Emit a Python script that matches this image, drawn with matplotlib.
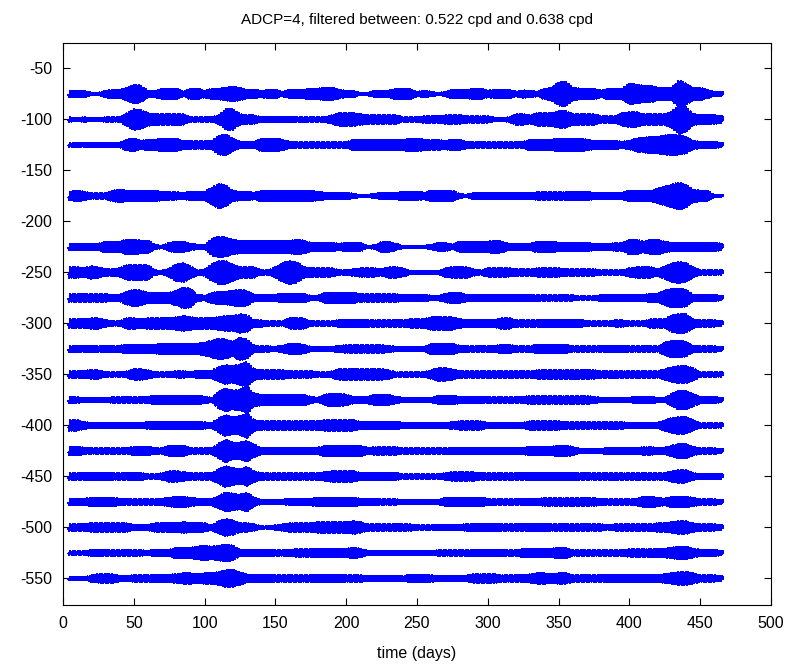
import numpy as np
import matplotlib
matplotlib.use("Agg")
import matplotlib.pyplot as plt

plt.rcParams['font.family'] = ['Liberation Sans', 'DejaVu Sans']
plt.rcParams['axes.unicode_minus'] = False

# ---- data ----
title_text = "ADCP=4, filtered between: 0.522 cpd and 0.638 cpd"
xlabel_text = "time (days)"
band_low_cpd = 0.522
band_high_cpd = 0.638
record_start_day = 4
record_end_day = 466
knot_days = list(range(5, 466, 5))          # envelope sampled every 5 days

depths = [-75, -100, -125, -175, -225, -250, -275, -300, -325, -350,
          -375, -400, -425, -450, -475, -500, -525, -550]

env_75 = [3,3,3,1,1,3,4,4,6,9, 8,3,3,5,5,5,2,5,5,3, 5,5,6,7,6,4,4,3,4,4,
          2,4,4,4,5,5,6,6,4,3, 3,1,1,3,3,3,5,5,5,2, 3,2,1,2,4,4,4,5,5,3,
          4,4,4,2,3.5,3,2,5,6,11, 12,6,5,5,5,3,5,5,5,10, 9,8,8,6,6,6,13,10,6,6, 4,2,2]
env_100 = [2,1.5,2,1.5,1.5,2,2,2,6,10, 9,6,5,5,5,5,5,2,2,2, 2,4,10,10,5,4,4,2,2.5,2.5,
           2.5,2.5,2,2,2,2,2,4,6,6, 6,5,4,4,4,4,4,2,2,2, 3,3,3,4,4,4,3,3,3,3,
           1.5,1.5,2,5,5,4,6,6,6,8, 8,5,5,5,5,3,3,3,6,7, 7,5,5,5,5,8,14,12,5,4.5, 4.5,4,3]
env_125 = [1.5,2,1.5,2,2,2,2,2,5,6, 4,5,5,6,6,6,4,3.5,3.5,3.5, 4,9,10,6,3,3,3,6,6,6,
           5,3,2.5,2.5,2.5,2.5,2.5,2.5,2.5,2.5, 5,5,5,5,5,5,5,5,6,6, 5,4.5,4.5,4,5,5,3,2.5,2.5,2.5,
           2.5,2.5,2.5,2.5,3,5,5,5,5,6, 6,6,6,5,4,4,4,4,3,4, 6,7,8,8,9,10,9,8,4,3, 3,3,2]
env_175 = [4,5,4,2.5,2.5,2.5,5,6,5,5, 5,5,5,4,3.5,3.5,3,4,4,4, 8,12,10,5,4,4,3,5,5,5,
           5,5,5,5,5,4,3,3,3,3, 2,1,1,2,3,3,3,4,4,4, 3,5,5,5,5,2,1,3,3,3,
           3,3,3,3,3,3,3.5,3.5,3.5,3.5, 3.5,4,4,4,3,3,3,3,3,5, 5,5,5,7,9,11,13,11,6,5, 5,1,1]
env_225 = [3,3,3,3,3,5,5,5,7,7, 6,6,2,1,4,5,5,3,2,2, 8,10,9,7,6,6,6,6,6,6,
           6,6,7,6,4,4,4,4,3,4, 4,4,1,1.5,5,5,3,1,1,1, 1,2,4,4,2,5,5,5,5,5,
           6,5,3,3,3,3,5,5,5,4, 4,4,4,4,3,3,3,3.5,3.5,7, 7,5,7,7,5,4,4,4,4,4, 4,4,3]
env_250 = [5,5,4,6,5,3,3,4,7,7, 7,7,2,1.5,4,8,9,6,2,3, 8,11,11,8,5,5,5,2,2,5,
           9,11,10,5,4,4,4,4,2,2, 3,4,4,4,3,5,5,4,1.5,1.5, 1.5,1.5,1.5,4,5,5,5,3,2,4,
           4,4,4,3,3,3,4,4,4,4, 3,3,3,3,3,2,2,2,2,4, 5,5,5,3,6,9,10,9,5,2, 2,2,2]
env_275 = [3.5,3.5,3.5,3.5,3.5,3.5,3,3,6,8, 7,5,5,5,5,7,10,9,3,2, 5,6,6,7,8,7,3,3,3,3,
           4,4,4,4,2,2,5,5,5,5, 5,3.5,3.5,3.5,3.5,3.5,3.5,3,3,3, 3,2,2,4,5,5,3,3,3,3,
           3,3,3,3,3,3,2.5,2.5,2.5,2.5, 2.5,2.5,1.5,1.5,1.5,3,3,3,3,3, 3,3,4,4,7,9,9,8,3,3, 3,3,2]
env_300 = [4,4,4,5,5,3,2,2,5,5, 4,5,5,5,5,6,7,6,5,5, 5,6,7,7,9,8,3,3,2,2,
           2,5,5,5,2,2,2,2,3.5,3.5, 3.5,3.5,3,3,3,3,3,3,4,4, 4,6,6,6,6,4,3.5,3.5,3.5,3.5,
           3.5,5,5,3,3,3,3,3.5,3.5,3.5, 3.5,3.5,3.5,2,2,2,2,3,3,2, 2,2,4,4,4,8,9,9,4,3, 3,3,2]
env_325 = [2.5,3,2.5,3,2.5,3,2.5,3,4,4, 4,4,4,5,5,5,5,5,5,6, 8,10,9,7,11,9,3,2.5,2.5,2,
           3,5,5,4,2,2,2,2,3,3.5, 3.5,3.5,3.5,3.5,3.5,3,2,2,2,2, 2,5,5,5,5,3,2.5,2.5,2.5,2.5,
           3,4,4,2.5,2.5,2.5,4,4,4,4, 4,2.5,2.5,2.5,2.5,2.5,3,3,3,2.5, 2.5,2.5,2.5,2.5,6,8,8,7,3,2.5, 2.5,2.5,2]
env_350 = [3,3,3.5,4,4,2,2,2,3,5, 5,4,2,2,2,3,3,2,3.5,3.5, 3.5,7,9,8,10,12,5,4,4,4,
           4,3,3,3,3,2,2,3,5,5, 5,5,5,5,5,4,2,2,2,2, 2,4,6,6,5,3,3,3,3,3,
           3,3,3,3,3,3,4,4,4,4, 4,4,4,4,4,3,3,3,3,3, 3,3,3,3,5,7,8,8,6,2, 2,2,2]
env_375 = [3,2.5,2,2,2,2,2.5,2.5,2.5,2.5, 2.5,3,4,4,4,4,4,4,4,3, 2,8,11,9,10,13,6,5,5,5,
           5,5,5,5,3,2,5,6,6,5, 3,3,3,5,5,5,3,2,2,2, 2,2,4,4,4,3,3,3,3,2.5,
           2.5,2.5,2.5,2.5,3,3.5,3.5,3.5,3.5,3.5, 3.5,3.5,3.5,3.5,3,2,2,2,2,2, 3,3,3,2,2,6,9,9,6,3, 3,3,2]
env_400 = [5,5,3,2.5,2.5,2.5,2.5,2.5,2.5,2.5, 2.5,3,3.5,3.5,3.5,3.5,3.5,3.5,3.5,3, 2,7,10,8,9,12,5,4,4,4,
           4,4,4,4,4,4,5,5,5,5, 5,3.5,3.5,3.5,3.5,3.5,3.5,2.5,2.5,2.5, 2.5,2.5,2.5,2.5,3,4,4,4,4,2.5,
           2.5,2.5,2.5,2.5,2.5,4,4,4,4,4, 3,3,3,3,3,3,3,3,3,2.5, 2.5,2.5,2.5,2.5,5,7,8,8,5,2, 2,2,2]
env_425 = [4,4,3,2.5,2.5,2.5,2.5,2.5,2.5,4, 4,4,2.5,2.5,5,5,5,2.5,2.5,2.5, 2.5,7,11,8,8,10,6,3,3,3,
           3,3,3,3,3,3,5,5,5,5, 5,5,3,3.5,3.5,3.5,3.5,2.5,2.5,2.5, 2.5,2.5,2.5,2.5,3,3,3,3,3,3,
           3,3,3,3,3,4,4,4,4,5, 5,4,2,2,2,2,3,3,3,3, 3,3.5,3.5,3,3,5,7,7,4,2.5, 2.5,2.5,2]
env_450 = [3,3,3,3.5,3.5,3.5,3,3,3,3.5, 3.5,2,2,3,5,5,4,3,3,3, 3,7,10,8,7,9,5,3,3,3,
           3,3,3,3,3,3,4,5,5,5, 5,3.5,3.5,3.5,3.5,3.5,3.5,2,2,2, 2,2,2,3,4,4,4,4,3,3,
           3,3,3,3,3,3.5,3.5,3.5,3.5,3.5, 3.5,3.5,3,3,3,3,3,3,3,3, 3,3,3,3,3,5,6,6,3,2.5, 2.5,2.5,2]
env_475 = [3,3,3,4,4,4,4,3,2.5,2.5, 2.5,2.5,2.5,3,4,5,5,4,3,3, 3,6,9,8,7,9,4,2,2,2,
           2,3,3,3,3,4,4,4,4,4, 4,3,3,3,2.5,2.5,2.5,2,2,2, 2,2,2,4,4,4,4,4,4,3,
           2.5,2.5,2.5,2.5,3,3,3,3.5,3.5,3.5, 3.5,3.5,3.5,3.5,3.5,3,2.5,2.5,2.5,2.5, 3,5,5,4,3,5,5,5,4,2.5, 2.5,2.5,2]
env_500 = [3,3,3,4,4,4,4,4,4,2.5, 2.5,2.5,4,4,4.5,4.5,5,4.5,4.5,4, 2,6,8,7,4,4,3,1,1,2,
           3,4,4,4,4,5,5,5,5,5, 6,5,3,3,3,3,3,3,3,2, 2,2,2.5,2.5,2.5,2.5,3,3.5,3.5,3.5,
           3.5,3,3,3,3,3.5,3.5,3.5,3,3, 3,3,3,3,3,3,2,3,3,3, 3,3,3,4,4,5,6,6,4,3, 3,3,2]
env_525 = [1.5,1.5,1.5,3,3,2.5,2.5,2.5,2.5,2.5, 2.5,2,3,3,3,5,5,5,6,7, 6,7,8,7,3,3,3,3,3,2.5,
           2.5,3,3.5,3.5,3.5,4,4,4,4,4, 5,4,2,2,2,2,2,2,2,2, 2,2,2.5,2.5,2.5,2.5,2.5,3,3,3,
           3,3,2.5,2.5,4,4,4,4,4,5, 5,2.5,2.5,2.5,2.5,2.5,2.5,2.5,2.5,3.5, 3.5,3.5,3.5,4,4,5,6,6,4,3, 3,3,2]
env_550 = [1.5,1.5,1,3,4,4,4,2.5,2.5,3, 3,3,3.5,3.5,3.5,4,5,5,4,5, 5,6,8,8,6,3.5,3.5,3.5,3.5,3,
           3,3,3,3,3,3.5,3.5,3.5,3.5,3, 3,3,2.5,2.5,2.5,2.5,2.5,2,3.5,3.5, 3.5,3,2.5,2.5,2.5,2.5,2.5,4,4,4,
           4,3,3,3,3,4,5,5,4,5, 5,3,3,3,3,3,3.5,3.5,3.5,3.5, 3.5,3.5,3.5,3.5,4,5,6,6,5,3, 3,3,2]

envelopes = [env_75, env_100, env_125, env_175, env_225, env_250, env_275, env_300,
             env_325, env_350, env_375, env_400, env_425, env_450, env_475, env_500,
             env_525, env_550]

xticks = list(range(0, 501, 50))
yticks = list(range(-550, -49, 50))

# ---- figure ----
W, H = 796, 668
fig = plt.figure(figsize=(W / 100, H / 100), dpi=100)
ax = fig.add_axes([63 / W, 1 - 605 / H, (771 - 63) / W, (605 - 43) / H])

t = np.arange(record_start_day, record_end_day, 1 / 24)
f0 = 0.5 * (band_low_cpd + band_high_cpd)
carrier = np.cos(2 * np.pi * f0 * t)
for d, env in zip(depths, envelopes):
    assert len(env) == len(knot_days), (d, len(env))
    e = np.interp(t, knot_days, env)
    ax.plot(t, d + e * carrier, color=(0, 0, 1), lw=1.0, antialiased=False)

ax.set_xlim(0, 500)
ax.set_ylim(-576, -25)
ax.set_xticks(xticks)
ax.set_yticks(yticks)
ax.tick_params(direction='in', top=True, right=True, length=5, width=0.8,
               labelsize=11.5, pad=8)
for s in ax.spines.values():
    s.set_linewidth(0.8)
ax.set_title(title_text, fontsize=11, pad=14)
ax.set_xlabel(xlabel_text, fontsize=11.5, labelpad=11)

fig.savefig("out.png", dpi=100)
